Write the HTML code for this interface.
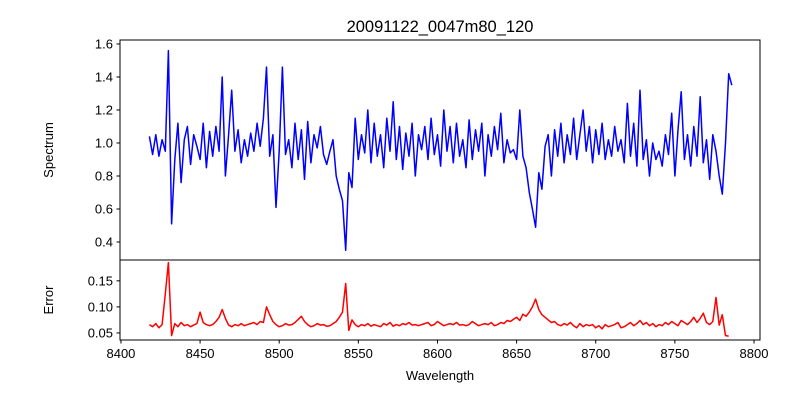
<!DOCTYPE html>
<html><head><meta charset="utf-8"><style>
body{margin:0;background:#fff}
svg{display:block;font-family:"Liberation Sans","DejaVu Sans",sans-serif}
</style></head><body>
<svg id="chart" width="800" height="400" viewBox="0 0 800 400" xmlns="http://www.w3.org/2000/svg">
<text x="440" y="32" text-anchor="middle" font-size="16.5">20091122_0047m80_120</text>
<g id="gtop"></g><g id="gbot"></g>
<text x="440" y="380" text-anchor="middle" font-size="13">Wavelength</text>
<text transform="translate(53,150) rotate(-90)" text-anchor="middle" font-size="13">Spectrum</text>
<text transform="translate(53,300) rotate(-90)" text-anchor="middle" font-size="13">Error</text>
</svg>
<script>
const specStart = 8418, specStep = 2;
const specValues = [1.04,0.93,1.05,0.92,1.02,0.95,1.56,0.51,0.90,1.12,0.76,1.02,1.10,0.87,1.05,0.98,0.90,1.12,0.85,1.07,0.92,1.10,0.95,1.40,0.80,1.05,1.32,0.95,1.08,0.88,1.02,0.92,1.06,0.95,1.12,0.98,1.15,1.46,0.92,1.05,0.61,0.95,1.46,0.93,1.02,0.85,1.12,0.90,1.08,0.78,1.13,0.88,1.05,0.97,1.10,0.93,0.87,0.95,1.02,0.80,0.72,0.65,0.35,0.82,0.73,1.15,0.90,1.05,0.94,1.20,0.88,1.12,0.92,1.05,0.85,1.15,0.95,1.25,0.90,1.10,0.84,1.06,0.92,1.12,0.80,1.05,0.96,1.10,0.90,1.15,0.93,1.05,0.86,1.20,0.95,1.10,0.88,1.12,0.92,1.02,0.85,1.14,0.90,1.08,0.95,1.12,0.80,1.05,0.92,1.10,0.96,1.18,0.88,1.02,0.94,0.96,0.90,1.20,0.92,0.85,0.70,0.60,0.49,0.82,0.72,0.98,1.05,0.80,1.08,0.92,1.12,0.88,1.05,0.93,1.15,0.90,1.05,1.20,0.95,1.10,0.88,1.08,0.93,1.12,0.90,1.02,0.92,1.10,0.95,1.02,0.88,1.24,0.92,1.12,0.86,1.32,0.90,1.02,0.80,1.00,0.90,0.95,0.86,1.05,0.93,1.18,0.80,1.08,1.31,0.90,1.05,0.86,1.10,0.92,1.28,0.88,1.02,0.78,1.05,0.95,0.80,0.69,1.00,1.42,1.35];
const errStart = 8418, errStep = 2;
const errValues = [0.066,0.062,0.068,0.060,0.066,0.125,0.185,0.045,0.068,0.062,
0.070,0.064,0.066,0.062,0.065,0.068,0.090,0.070,0.066,0.064,
0.066,0.072,0.080,0.095,0.078,0.065,0.062,0.066,0.064,0.068,
0.064,0.066,0.068,0.070,0.066,0.072,0.070,0.100,0.085,0.072,
0.066,0.062,0.064,0.068,0.065,0.066,0.070,0.076,0.082,0.072,
0.066,0.062,0.064,0.068,0.065,0.066,0.063,0.064,0.068,0.072,
0.080,0.090,0.145,0.055,0.075,0.066,0.062,0.066,0.064,0.068,
0.063,0.066,0.064,0.062,0.068,0.065,0.070,0.063,0.066,0.064,
0.068,0.066,0.070,0.065,0.066,0.064,0.066,0.068,0.070,0.064,
0.066,0.072,0.068,0.064,0.066,0.068,0.066,0.070,0.065,0.066,
0.064,0.066,0.072,0.068,0.064,0.066,0.068,0.066,0.070,0.064,
0.066,0.070,0.068,0.074,0.072,0.076,0.080,0.074,0.086,0.082,
0.090,0.100,0.115,0.095,0.085,0.080,0.075,0.070,0.072,0.066,
0.064,0.068,0.065,0.070,0.064,0.060,0.068,0.062,0.066,0.064,
0.066,0.060,0.064,0.058,0.066,0.062,0.064,0.066,0.070,0.060,
0.062,0.066,0.070,0.064,0.068,0.074,0.066,0.070,0.064,0.068,
0.062,0.066,0.064,0.070,0.066,0.072,0.068,0.064,0.074,0.070,
0.066,0.072,0.080,0.070,0.078,0.088,0.070,0.066,0.072,0.118,
0.065,0.085,0.045,0.044];
const xTicks = [8400,8450,8500,8550,8600,8650,8700,8750,8800];
const topTicks = [0.4,0.6,0.8,1.0,1.2,1.4,1.6];
const botTicks = [0.05,0.10,0.15];

const NS="http://www.w3.org/2000/svg";
const L=120,R=760;
const xs=v=>L+(v-8399.4)/(8803.8-8399.4)*(R-L);
const ysT=v=>40+(1.624-v)/(1.624-0.291)*220;
const ysB=v=>260+(0.19-v)/(0.19-0.0365)*80;
function mk(t,a,p){const e=document.createElementNS(NS,t);for(const k in a)e.setAttribute(k,a[k]);p.appendChild(e);return e;}
const gTop=document.getElementById('gtop'),gBot=document.getElementById('gbot');

const sp=specValues.map((v,i)=>xs(specStart+i*specStep).toFixed(1)+','+ysT(v).toFixed(1)).join(' ');
const sl=mk('polyline',{points:sp,fill:'none',stroke:'#0000ff','stroke-width':1.5,'stroke-linejoin':'round'},gTop);


const ep=errValues.map((v,i)=>xs(errStart+i*errStep).toFixed(1)+','+ysB(v).toFixed(1)).join(' ');
const el=mk('polyline',{points:ep,fill:'none',stroke:'#ff0000','stroke-width':1.5,'stroke-linejoin':'round'},gBot);



const f1=mk('rect',{x:L,y:40,width:R-L,height:220,fill:'none',stroke:'#000','stroke-width':1},gTop);


const f2=mk('rect',{x:L,y:260,width:R-L,height:80,fill:'none',stroke:'#000','stroke-width':1},gBot);



xTicks.forEach(t=>{const x=xs(t);
 mk('line',{x1:x,x2:x,y1:340,y2:343.5,stroke:'#000'},gBot);
 const tx=mk('text',{x:x,y:358,'text-anchor':'middle','font-size':13},gBot);tx.textContent=t;
 
 
});
topTicks.forEach(t=>{const y=ysT(t);
 mk('line',{x1:L-3.5,x2:L,y1:y,y2:y,stroke:'#000'},gTop);
 const tx=mk('text',{x:L-7,y:y+4.5,'text-anchor':'end','font-size':13},gTop);tx.textContent=t.toFixed(1);
 
 
});
botTicks.forEach(t=>{const y=ysB(t);
 mk('line',{x1:L-3.5,x2:L,y1:y,y2:y,stroke:'#000'},gBot);
 const tx=mk('text',{x:L-7,y:y+4.5,'text-anchor':'end','font-size':13},gBot);tx.textContent=t.toFixed(2);
 
 
});
</script>
</body></html>
